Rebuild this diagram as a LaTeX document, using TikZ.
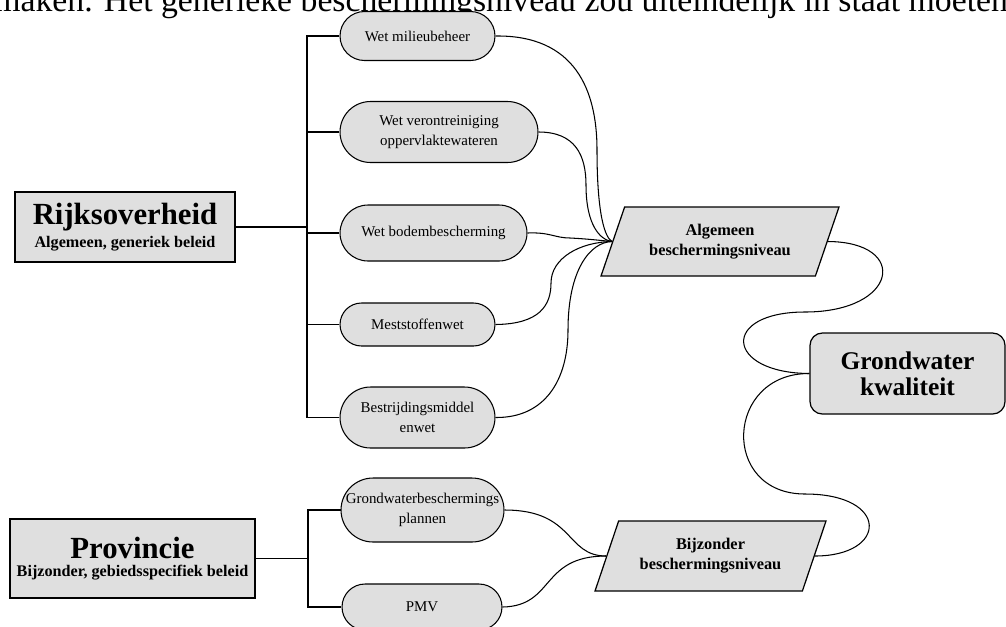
\documentclass[tikz,border=0pt]{standalone}
\usepackage{fontspec}
\setmainfont{Liberation Serif}
\usetikzlibrary{shapes.misc,shapes.geometric}

\begin{document}
\begin{tikzpicture}[x=0.02cm, y=-0.02cm,
  box/.style={draw, fill=gray!25, line width=0.7pt, inner sep=0pt, align=center},
  wet/.style={draw, fill=gray!25, rounded rectangle, line width=0.6pt, inner sep=0pt, align=center, font=\fontsize{8.5}{11.4}\selectfont},
  niveau/.style={draw, fill=gray!25, trapezium, trapezium left angle=56, trapezium right angle=124, trapezium stretches body, line width=0.7pt, inner sep=0pt, align=center, font=\bfseries\fontsize{9.3}{11.4}\selectfont},
  link/.style={line width=0.6pt}]
\useasboundingbox (0,0) rectangle (1006,626);
\node[anchor=base west, inner sep=0pt, font=\fontsize{19.2}{20}\selectfont] (txt) at (-6,11) {maken. Het generieke beschermingsniveau zou uiteindelijk in staat moeten};

\node[box, minimum width=4.4cm, minimum height=1.4cm, font=\bfseries\fontsize{9.2}{13}\selectfont] (rijk) at (125,227) {{\fontsize{17.5}{17.5}\selectfont Rijksoverheid}\\Algemeen, generiek beleid};
\node[box, minimum width=4.9cm, minimum height=1.58cm, font=\bfseries\fontsize{9.2}{10.5}\selectfont] (prov) at (132.5,558.5) {{\fontsize{17.5}{17.5}\selectfont Provincie}\\Bijzonder, gebiedsspecifiek beleid};

\node[wet, minimum width=3.1cm, minimum height=0.98cm] (wmb) at (417.5,36) {Wet milieubeheer};
\node[wet, minimum width=3.96cm, minimum height=1.22cm] (wvo) at (439,132) {Wet verontreiniging\\oppervlaktewateren};
\node[wet, minimum width=3.74cm, minimum height=1.12cm] (wbb) at (433.5,233) {Wet bodembescherming};
\node[wet, minimum width=3.1cm, minimum height=0.86cm] (msw) at (417.5,324.5) {Meststoffenwet};
\node[wet, minimum width=3.1cm, minimum height=1.22cm] (bmw) at (417.5,417.5) {Bestrijdingsmiddel\\enwet};
\node[wet, minimum width=3.22cm, minimum height=1.28cm] (gbp) at (422.5,510) {Grondwaterbeschermings\\plannen};
\node[wet, minimum width=3.2cm, minimum height=0.92cm] (pmv) at (422,607) {PMV};

\node[niveau, minimum width=4.76cm, minimum height=1.38cm] (alg) at (720,241.5) {Algemeen\\beschermingsniveau};
\node[niveau, minimum width=4.62cm, minimum height=1.4cm] (bij) at (710.5,556) {Bijzonder\\beschermingsniveau};
\node[box, rounded corners=7pt, minimum width=3.9cm, minimum height=1.62cm, font=\bfseries\fontsize{14.5}{14.8}\selectfont] (gwk) at (907.5,373.5) {Grondwater\\kwaliteit};

\coordinate (busR) at (307,227);
\coordinate (busP) at (308,558.5);
\draw[link] (rijk.east) -- (busR);
\draw[link] (wmb.west) -| (busR) |- (bmw.west);
\foreach \n in {wvo,wbb,msw}
  \draw[link] (\n.west) -- (\n.west -| busR);
\draw[link] (prov.east) -- (busP);
\draw[link] (gbp.west) -| (busP) |- (pmv.west);

\draw[link] (wmb.east) .. controls (575,35) and (597,90) .. (597,150) .. controls (597,215) and (605,238) .. (alg.left side);
\draw[link] (wvo.east) .. controls (575,132) and (586,155) .. (586,185) .. controls (586,225) and (600,240) .. (alg.left side);
\draw[link] (wbb.east) .. controls (550,232) and (555,238) .. (570,238) .. controls (590,239) and (605,241) .. (alg.left side);
\draw[link] (msw.east) .. controls (540,324) and (551,305) .. (551,283) .. controls (551,258) and (580,242) .. (alg.left side);
\draw[link] (bmw.east) .. controls (545,418) and (568,380) .. (568,330) .. controls (568,270) and (590,242) .. (alg.left side);
\draw[link] (gbp.east) .. controls (575,510) and (565,556) .. (bij.left side);
\draw[link] (pmv.east) .. controls (555,606) and (540,556) .. (bij.left side);

\draw[link] (alg.right side) .. controls (910,242) and (898,312) .. (805,312) .. controls (720,312) and (725,373) .. (gwk.west);
\draw[link] (gwk.west) .. controls (725,373) and (720,494) .. (805,494) .. controls (890,494) and (888,556) .. (bij.right side);
\end{tikzpicture}
\end{document}
